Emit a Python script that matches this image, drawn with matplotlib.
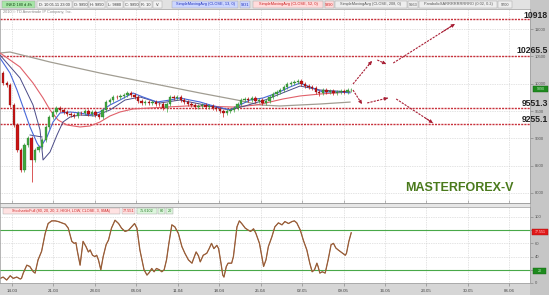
import numpy as np
import matplotlib
matplotlib.use("Agg")
import matplotlib.pyplot as plt
from matplotlib.patches import Rectangle

plt.rcParams['font.family'] = ['Liberation Sans', 'DejaVu Sans']

# x axis: days after 14.03
tick_labels = ['14.03', '21.03', '28.03', '04.04', '11.04', '18.04', '25.04',
               '02.05', '09.05', '16.05', '23.05', '30.05', '06.06']
tick_days = [0, 7, 14, 21, 28, 35, 42, 49, 56, 63, 70, 77, 84]

# candles (one every 0.6 day starting at day -1.5), open = previous close
first_open = 10195
closes = [10010, 9975, 9610, 9245, 8790, 8420, 8880, 9005, 8605, 8790,
          8840, 8970, 9210, 9390, 9480, 9555, 9520, 9480, 9445, 9425,
          9410, 9465, 9460, 9500, 9445, 9480, 9425, 9390, 9520, 9665,
          9700, 9755, 9750, 9775, 9795, 9830, 9790, 9755, 9685, 9645,
          9665, 9650, 9665, 9630, 9625, 9555, 9630, 9755, 9740, 9760,
          9700, 9665, 9630, 9610, 9575, 9590, 9610, 9575, 9595, 9555,
          9535, 9500, 9465, 9500, 9520, 9555, 9630, 9700, 9720, 9705,
          9740, 9685, 9700, 9645, 9685, 9755, 9810, 9850, 9885, 9940,
          9995, 10010, 10030, 10050, 9995, 9955, 9940, 9920, 9850, 9830,
          9885, 9850, 9865, 9830, 9850, 9865, 9850, 9885, 9890]
long_lows = {8: 8200, 46: 9480, 62: 9390, 89: 9775}

sma13_days = [-2.03, -0.34, 0.84, 1.86, 3.04, 4.22, 4.73, 5.91, 6.93, 8.11, 9.80, 11.49,
              13.18, 14.86, 16.55, 18.24, 20.44, 22.13, 24.49, 26.69, 28.38, 30.07, 31.76,
              33.45, 36.82, 38.51, 40.20, 42.40, 44.76, 46.96, 48.65, 50.34, 52.53, 55.41, 57.09]
sma13_vals = [10470, 10195, 9884, 9573, 9208, 8915, 8824, 9025, 9299, 9464, 9482, 9464,
              9427, 9482, 9610, 9701, 9829, 9756, 9665, 9701, 9738, 9701, 9665,
              9610, 9519, 9610, 9701, 9738, 9829, 9939, 10012, 9939, 9848, 9848, 9831]

sma52_days = [-2.03, -1.52, 1.35, 3.55, 5.24, 6.42, 7.77, 9.29, 11.49, 13.18, 14.86, 16.55,
              18.24, 20.44, 23.31, 26.18, 29.56, 31.76, 37.33, 41.39, 43.58, 45.78, 48.65,
              52.03, 57.09]
sma52_vals = [10561, 10524, 10305, 10012, 9738, 9519, 9336, 9244, 9208, 9226, 9299, 9409,
              9482, 9537, 9555, 9573, 9592, 9592, 9573, 9610, 9665, 9720, 9775,
              9811, 9848]

sma208_days = [-2.03, -0.34, 6.42, 14.86, 23.31, 31.76, 38.01, 41.89, 45.27, 52.03, 57.09]
sma208_vals = [10561, 10579, 10396, 10195, 10012, 9829, 9701, 9610, 9592, 9628, 9663]

band_days = [-2.03, 1.35, 3.55, 4.73, 5.24, 6.42, 7.60, 8.61, 9.80, 11.49, 14.02, 16.55,
             19.09, 21.62, 25.0, 28.38, 31.76, 36.82, 39.36, 42.74, 46.11, 48.65, 52.03, 57.09]
band_vals = [10524, 10104, 9610, 9153, 8604, 8750, 9061, 9299, 9390, 9427, 9409, 9519,
             9701, 9756, 9647, 9701, 9628, 9519, 9592, 9701, 9848, 9957, 9884, 9848]
band2_days = [3.04, 5.07]
band2_vals = [9061, 9025]

levels = [11183, 10506, 9555, 9262]
level_labels = ['10918', '10265.5', '9551.3', '9255.1']
level_label_y = [15, 51, 103, 120]

# forecast arrows (start day, start value, end day, end value)
arrows = [(57.6, 9994, 60.8, 10415), (61.7, 10433, 63.2, 10360), (64.4, 10378, 74.8, 11091),
          (57.6, 9884, 59.1, 9628), (60.0, 9647, 63.5, 9738), (64.9, 9720, 71.1, 9281)]

stoch_days = [-2.0, -1.5, -0.9, -0.3, 0.2, 0.8, 1.4, 1.6, 1.9, 2.5,
              3.0, 3.6, 3.9, 4.4, 5.0, 5.6, 6.1, 6.7, 7.3, 7.8,
              8.4, 9.0, 9.5, 10.1, 10.5, 10.8, 11.0, 11.5, 12.0, 12.5,
              12.9, 13.2, 13.6, 14.0, 14.3, 14.6, 15.0, 15.4, 15.9, 16.3,
              16.8, 17.4, 18.0, 18.5, 19.1, 19.7, 20.2, 20.7, 21.1, 21.6,
              22.3, 22.8, 23.2, 23.6, 24.0, 24.4, 24.9, 25.3, 25.7, 26.1,
              26.5, 27.0, 27.5, 28.1, 28.7, 29.2, 29.8, 30.4, 30.6, 31.1,
              31.5, 31.8, 32.3, 32.9, 33.3, 33.7, 34.1, 34.6, 34.9, 35.3,
              35.6, 35.8, 36.2, 36.5, 37.1, 37.4, 38.0, 38.4, 38.8, 39.4,
              39.9, 40.3, 40.8, 41.2, 41.8, 42.2, 42.5, 42.9, 43.3, 43.9,
              44.4, 45.0, 45.6, 46.1, 46.7, 47.3, 47.7, 48.1, 48.7, 49.2,
              49.8, 50.3, 50.7, 51.1, 51.5, 51.7, 52.0, 52.4, 52.9, 53.4,
              53.9, 54.3, 54.7, 55.1, 55.7, 56.3, 56.5, 56.9, 57.3]
stoch_vals = [7, 9, 4.5, 11, 7, 9, 6, 7, 15, 27,
              25, 17, 15, 35, 48, 75, 90, 94, 94, 93,
              91, 89, 83, 63, 60, 61, 50, 27, 63, 55,
              47, 50, 42, 40, 42, 35, 20, 40, 58, 65,
              83, 95, 90, 83, 78, 80, 85, 90, 83, 50,
              20, 12, 16, 22, 17, 22, 20, 17, 20, 35,
              60, 88, 85, 75, 55, 45, 35, 30, 35, 47,
              41, 32, 42, 45, 52, 60, 52, 57, 52, 30,
              12, 9, 25, 30, 30, 40, 85, 94, 90, 83,
              80, 78, 82, 75, 60, 40, 25, 35, 55, 70,
              85, 91, 88, 93, 90, 93, 94, 91, 80, 65,
              50, 30, 17, 20, 30, 25, 15, 17, 15, 35,
              58, 60, 53, 50, 46, 42, 45, 63, 76]

W, H = 549, 295


def frame(x0, y0, x1, y1):
    return [x0 / W, 1 - y1 / H, (x1 - x0) / W, (y1 - y0) / H]


def band(x0, x1, y0, y1, fc, ec='none'):
    fig.patches.append(Rectangle((x0 / W, 1 - y1 / H), (x1 - x0) / W, (y1 - y0) / H,
                                 transform=fig.transFigure, fc=fc, ec=ec, lw=0.4, zorder=-5))


def box(x0, x1, y0, y1, text, fc, tc, fs=2.8, ec='#a0a0a0'):
    fig.patches.append(Rectangle((x0 / W, 1 - y1 / H), (x1 - x0) / W, (y1 - y0) / H,
                                 transform=fig.transFigure, fc=fc, ec=ec, lw=0.3, zorder=5))
    fig.text((x0 + x1) / 2 / W, 1 - (y0 + y1) / 2 / H, text, ha='center', va='center',
             fontsize=fs, color=tc, zorder=6)


fig = plt.figure(figsize=(5.49, 2.95), dpi=100, facecolor='#c6c6c6')

# background bands
band(0, 530, 0, 9, '#e2e2e2')
band(0, 530, 203, 207, '#e6e6e6', '#a0a0a0')
band(0, 530, 283, 295, '#d6d6d6')

# ---------------- price panel
ax = fig.add_axes(frame(0, 9, 530, 203))
ax.set_facecolor('white')
ax.set_xlim(-2.03, 87.5)
ax.set_ylim(7817, 11366)

ax.set_xticks(tick_days)
ax.set_yticks(np.arange(8000, 11001, 500))
ax.grid(True, color='#c8c8c8', ls=(0, (1, 1.5)), lw=0.5)
ax.tick_params(axis='x', direction='in', length=2, width=0.4, color='#888', labelbottom=False)
ax.yaxis.tick_right()
ax.tick_params(axis='y', direction='out', length=2, width=0.4, color='#777',
               labelsize=3, labelcolor='#555', pad=1.5)
for s in ax.spines.values():
    s.set_color('#999999')
    s.set_linewidth(0.5)

for v in levels:
    ax.axhline(v, color='#c8323c', ls=(0, (1.5, 0.8)), lw=1.0, zorder=2)

ax.plot(sma208_days, sma208_vals, color='#a19d92', lw=0.9, zorder=3)
ax.plot(sma52_days, sma52_vals, color='#e0606a', lw=0.8, zorder=3)
ax.plot(band_days, band_vals, color='#4a4a86', lw=0.7, zorder=3)
ax.plot(band2_days, band2_vals, color='#4a4a86', lw=0.7, zorder=3)
ax.plot(sma13_days, sma13_vals, color='#4868d8', lw=0.8, zorder=3)

prev = first_open
for i, c in enumerate(closes):
    d = -1.5 + 0.6 * i
    o = prev
    col = '#3fa83f' if c >= o else '#cc1414'
    hi = max(o, c) + 35
    lo = long_lows.get(i, min(o, c) - 35)
    ax.vlines(d, lo, hi, color=col, lw=0.5, zorder=4)
    ax.add_patch(Rectangle((d - 0.2, min(o, c)), 0.4, max(abs(c - o), 8),
                           fc=col, ec='#5a1010' if c < o else '#2a6a2a', lw=0.2, zorder=5))
    prev = c

for x0, y0, x1, y1 in arrows:
    ax.plot([x0, x1], [y0, y1], color='#a81e34', lw=0.8, ls=(0, (2, 1)), zorder=6)
    ax.annotate('', xy=(x1, y1), xytext=(x0 + 0.8 * (x1 - x0), y0 + 0.8 * (y1 - y0)),
                arrowprops=dict(arrowstyle='-|>', color='#a81e34', lw=0.6,
                                mutation_scale=5, shrinkA=0, shrinkB=0), zorder=6)

# ---------------- stochastic panel
ax2 = fig.add_axes(frame(0, 207, 530, 283))
ax2.set_facecolor('white')
ax2.set_xlim(-2.03, 87.5)
ax2.set_ylim(0, 115)
ax2.set_xticks(tick_days)
ax2.set_xticklabels(tick_labels)
ax2.set_yticks([0, 20, 40, 60, 80, 100])
ax2.set_yticklabels(['0', '', '40', '60', '', '100'])
ax2.grid(True, color='#c8c8c8', ls=(0, (1, 1.5)), lw=0.5)
ax2.tick_params(axis='x', direction='out', length=2, width=0.4, color='#777',
                labelsize=3.2, labelcolor='#444', pad=2)
ax2.yaxis.tick_right()
ax2.tick_params(axis='y', direction='out', length=2, width=0.4, color='#777',
                labelsize=3, labelcolor='#555', pad=1.5)
for s in ax2.spines.values():
    s.set_color('#999999')
    s.set_linewidth(0.5)

ax2.axhline(80, color='#48a848', lw=0.8)
ax2.axhline(20, color='#48a848', lw=0.8)
ax2.plot(stoch_days, stoch_vals, color='#d05050', lw=0.5)
ax2.plot(stoch_days, stoch_vals, color='#946038', lw=0.9)

# ---------------- header / labels
box(2, 35, 1, 8, '/NKD 180 d 4h', '#a6e6a6', '#124412')
box(37, 72, 1, 8, 'D: 10.05.11 23:00', '#f2f2f2', '#333333')
box(73, 88, 1, 8, 'O: 9890', '#f2f2f2', '#333333')
box(89, 105, 1, 8, 'H: 9890', '#f2f2f2', '#333333')
box(107, 123, 1, 8, 'L: 9880', '#f2f2f2', '#333333')
box(124, 139, 1, 8, 'C: 9890', '#f2f2f2', '#333333')
box(140, 152, 1, 8, 'R: 10', '#f2f2f2', '#333333')
box(153, 162, 1, 8, 'V:', '#f2f2f2', '#333333')
box(172, 238, 1, 8, 'SimpleMovingAvg (CLOSE, 13, 0)', '#ccd6ff', '#2233bb')
box(240, 250, 1, 8, '9831', '#ccd6ff', '#2233bb')
box(253, 323, 1, 8, 'SimpleMovingAvg (CLOSE, 52, 0)', '#ffdcdc', '#cc2222')
box(325, 334, 1, 8, '9890', '#ffdcdc', '#cc2222')
box(335, 407, 1, 8, 'SimpleMovingAvg (CLOSE, 208, 0)', '#eeeeee', '#555555')
box(408, 418, 1, 8, '9663', '#eeeeee', '#555555')
box(419, 497, 1, 8, 'ParabolicSARRRRRRRRRO (0.02, 0.2)', '#eeeeee', '#555555')
box(498, 512, 1, 8, '9700', '#eeeeee', '#555555')
fig.text(3 / W, 1 - 12.5 / H, '2010 \u00a9 TD Ameritrade IP Company, Inc.', fontsize=2.8,
         color='#8a8a8a', va='center')

box(3, 120, 208, 213.5, 'StochasticFull (80, 20, 20, 2, HIGH, LOW, CLOSE, 3, SMA)',
    '#ffe2e2', '#cc2222', fs=2.7)
box(122, 135, 208, 213.5, '77.551', '#ffe2e2', '#cc2222', fs=2.7)
box(137, 157, 208, 213.5, '75.6102', '#ddf6dd', '#227722', fs=2.7)
box(158, 165, 208, 213.5, '80', '#ddf6dd', '#227722', fs=2.7)
box(166, 173, 208, 213.5, '20', '#ddf6dd', '#227722', fs=2.7)

box(533, 548, 86.5, 92, '9890', '#1e8a1e', '#c8f0c8', fs=2.6, ec='#116611')
box(532, 548, 229, 235, '77.551', '#e01818', '#ffd0d0', fs=2.6, ec='#aa1010')
box(533, 546, 268, 274, '20', '#1e8a1e', '#c8f0c8', fs=2.6, ec='#116611')

for lab, yy in zip(level_labels, level_label_y):
    fig.text(548 / W, 1 - yy / H, lab, ha='right', va='center', fontsize=6.2,
             weight='bold', color='#222222', zorder=6)

fig.text(459 / W, 1 - 188 / H, 'MASTERFOREX-V', ha='center', va='center', fontsize=9,
         weight='bold', color='#4a7a1c')

fig.savefig('out.png', dpi=100, facecolor=fig.get_facecolor())
